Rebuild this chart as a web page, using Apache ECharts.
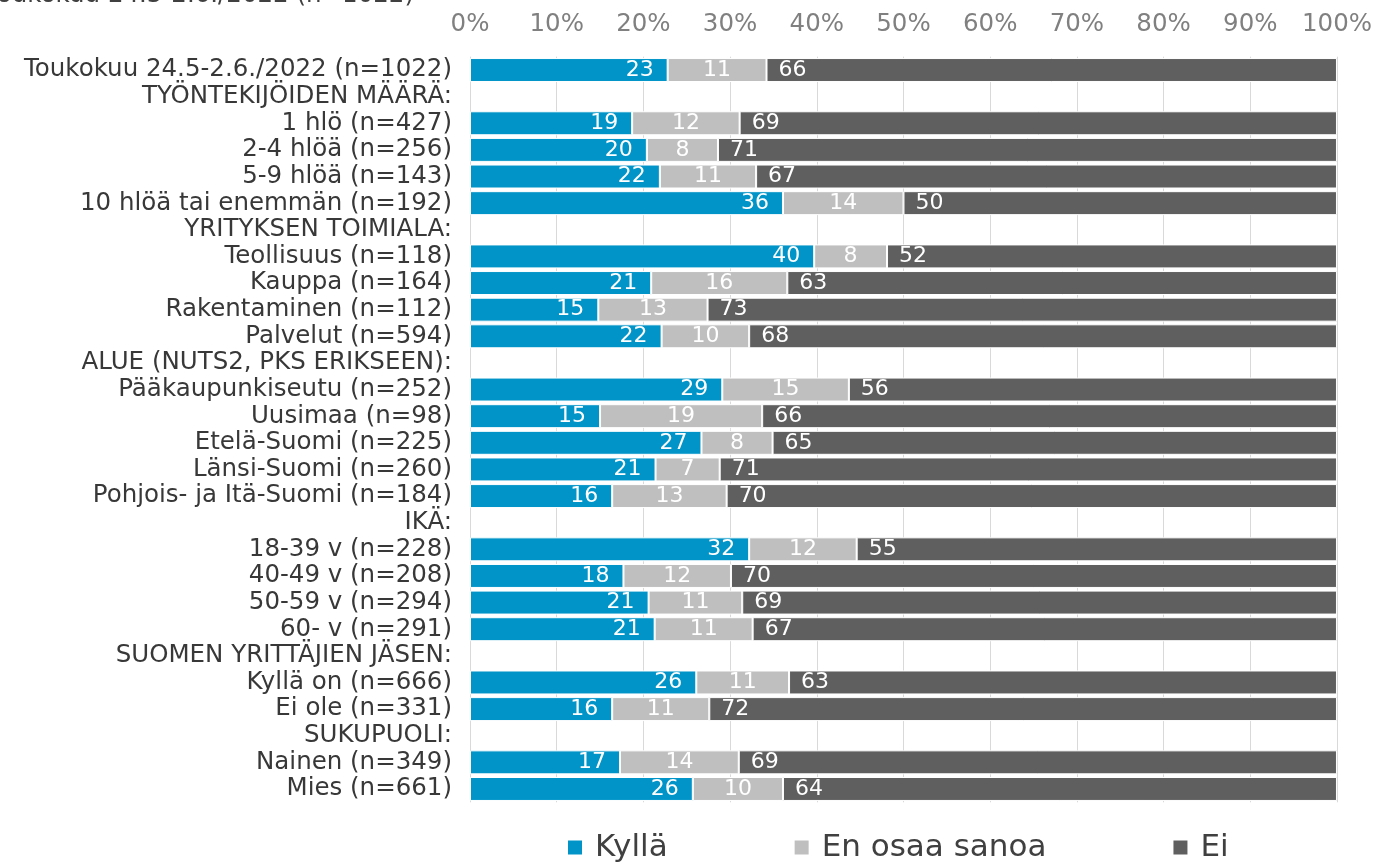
<!DOCTYPE html>
<html>
<head>
<meta charset="utf-8">
<script src="https://cdn.jsdelivr.net/npm/echarts@6/dist/echarts.min.js"></script>
<style>
html,body{margin:0;padding:0;background:#fff;}
#chart{width:1375px;height:864px;}
</style>
</head>
<body>
<div id="chart"></div>
<script>
var titleText = 'Toukokuu 24.5-2.6./2022 (n=1022)';
var categories = [
  'Toukokuu 24.5-2.6./2022 (n=1022)',
  'TYÖNTEKIJÖIDEN MÄÄRÄ:',
  '1 hlö (n=427)',
  '2-4 hlöä (n=256)',
  '5-9 hlöä (n=143)',
  '10 hlöä tai enemmän (n=192)',
  'YRITYKSEN TOIMIALA:',
  'Teollisuus (n=118)',
  'Kauppa (n=164)',
  'Rakentaminen (n=112)',
  'Palvelut (n=594)',
  'ALUE (NUTS2, PKS ERIKSEEN):',
  'Pääkaupunkiseutu (n=252)',
  'Uusimaa (n=98)',
  'Etelä-Suomi (n=225)',
  'Länsi-Suomi (n=260)',
  'Pohjois- ja Itä-Suomi (n=184)',
  'IKÄ:',
  '18-39 v (n=228)',
  '40-49 v (n=208)',
  '50-59 v (n=294)',
  '60- v (n=291)',
  'SUOMEN YRITTÄJIEN JÄSEN:',
  'Kyllä on (n=666)',
  'Ei ole (n=331)',
  'SUKUPUOLI:',
  'Nainen (n=349)',
  'Mies (n=661)'
];
var seriesNames = ['Kyllä', 'En osaa sanoa', 'Ei'];
var kylla = [22.8, null, 18.7, 20.4, 21.9, 36.1, null, 39.7, 20.9, 14.8, 22.1, null, 29.1, 15.0, 26.7, 21.4, 16.4, null, 32.2, 17.7, 20.6, 21.3, null, 26.1, 16.4, null, 17.3, 25.7];
var enOsaa = [11.4, null, 12.4, 8.2, 11.1, 13.9, null, 8.4, 15.7, 12.6, 10.1, null, 14.6, 18.7, 8.2, 7.4, 13.2, null, 12.4, 12.4, 10.8, 11.3, null, 10.7, 11.2, null, 13.7, 10.4];
var ei = [65.8, null, 68.9, 71.4, 67.0, 50.0, null, 51.9, 63.4, 72.6, 67.8, null, 56.3, 66.3, 65.1, 71.2, 70.4, null, 55.4, 69.9, 68.6, 67.4, null, 63.2, 72.4, null, 69.0, 63.9];
var colors = ['#0094C8', '#BFBFBF', '#5F5F5F'];

var FONT = 'DejaVu Sans';
function lbl(pos, dist) {
  return {
    show: true,
    position: pos,
    distance: dist,
    color: '#ffffff',
    fontSize: 22,
    fontFamily: FONT,
    formatter: function (p) { return p.value == null ? '' : String(Math.round(p.value)); }
  };
}
function mk(name, data, color, label) {
  return {
    name: name,
    type: 'bar',
    stack: 'total',
    data: data,
    barWidth: '90%',
    itemStyle: { color: color, borderColor: '#ffffff', borderWidth: 1 },
    label: label,
    emphasis: { disabled: true }
  };
}

var chart = echarts.init(document.getElementById('chart'), null, { renderer: 'canvas' });
chart.setOption({
  animation: false,
  backgroundColor: '#ffffff',
  title: {
    text: titleText,
    left: -14,
    top: -17,
    padding: 0,
    textStyle: { fontFamily: FONT, fontSize: 24.5, fontWeight: 'normal', color: '#404040' }
  },
  grid: { left: 470, right: 38, top: 56.7, bottom: 61.7, containLabel: false },
  legend: {
    data: seriesNames,
    left: 566,
    top: 832,
    padding: 0,
    itemGap: 125,
    itemWidth: 16,
    itemHeight: 16,
    icon: 'rect',
    textStyle: { fontFamily: FONT, fontSize: 31, color: '#404040', padding: [0, 0, 0, 7] }
  },
  xAxis: {
    type: 'value',
    position: 'top',
    min: 0,
    max: 100,
    interval: 10,
    axisLine: { show: false },
    axisTick: { show: false },
    splitLine: { show: true, lineStyle: { color: '#d9d9d9', width: 1 } },
    axisLabel: { formatter: '{value}%', color: '#808080', fontSize: 24.5, fontFamily: FONT, margin: 20 }
  },
  yAxis: {
    type: 'category',
    inverse: true,
    data: categories,
    axisLine: { show: false },
    axisTick: { show: false },
    axisLabel: { color: '#383838', fontSize: 24.5, fontFamily: FONT, margin: 18, interval: 0 }
  },
  series: [
    mk(seriesNames[0], kylla, colors[0], lbl('insideRight', 14)),
    mk(seriesNames[1], enOsaa, colors[1], lbl('inside', 0)),
    mk(seriesNames[2], ei, colors[2], lbl('insideLeft', 12))
  ]
});
</script>
</body>
</html>
